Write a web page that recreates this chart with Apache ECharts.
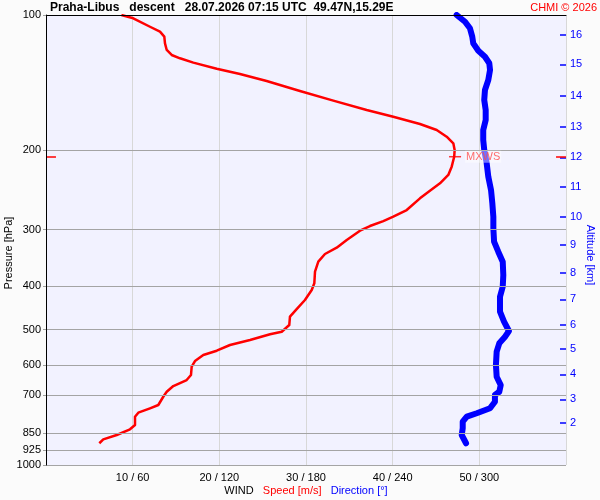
<!DOCTYPE html>
<html>
<head>
<meta charset="utf-8">
<script src="https://cdn.jsdelivr.net/npm/echarts@6/dist/echarts.min.js"></script>
<style>
  html, body { margin: 0; padding: 0; background: #fbfbfb; }
  #chart { width: 600px; height: 500px; }
</style>
</head>
<body>
<div id="chart"></div>
<script>
// ---- tick labels ----
const pressureTicks = [100, 200, 300, 400, 500, 600, 700, 850, 925, 1000];
const altitudeKm = [2, 3, 4, 5, 6, 7, 8, 9, 10, 11, 12, 13, 14, 15, 16];
const altitudePressure = [805.4, 714.5, 628.6, 552.6, 488.6, 428.3, 373.7, 324.4, 280.6, 240.7, 207.2, 177.1, 151.4, 128.7, 110.8];
const speedTicks = [10, 20, 30, 40, 50];
const speedTickLabels = ['10 / 60', '20 / 120', '30 / 180', '40 / 240', '50 / 300'];

// ---- wind speed profile (m/s) ----
const speedPressure = [100, 101.7, 106.2, 108.9, 111.7, 115.6, 119.6, 122.7, 124.8, 127.6,
  131.6, 135.3, 140.2, 147.5, 155.0, 162.6, 168.3, 174.7, 180.1, 186.4,
  192.8, 199.5, 206.5, 217.3, 226.7, 236.6, 245.7, 255.5, 271.3, 280.7,
  287.0, 294.4, 301.6, 316.2, 328.9, 339.7, 353.3, 371.9, 394.7, 408.4,
  429.9, 448.6, 468.2, 488.6, 505.6, 512.4, 527.5, 541.2, 557.2, 569.6,
  587.4, 604.8, 631.0, 647.4, 667.6, 687.5, 705.3, 735.6, 748.2, 765.2,
  781.0, 814.8, 833.0, 857.7, 876.9, 894.7];
const speedValues = [8.7, 10.07, 12.0, 13.15, 13.65, 13.73, 13.93, 14.5, 15.46, 17.0,
  19.7, 22.38, 25.46, 29.3, 33.15, 37.0, 40.07, 43.15, 45.08, 46.23,
  47.0, 47.15, 47.1, 46.81, 46.42, 45.46, 44.3, 43.15, 41.62, 40.07,
  38.92, 37.38, 36.23, 34.7, 33.54, 32.19, 31.42, 31.04, 30.96, 30.66,
  29.88, 29.0, 28.15, 28.07, 27.2, 25.85, 23.54, 21.23, 19.7, 18.15,
  17.19, 16.81, 16.73, 16.23, 14.69, 13.93, 13.53, 12.96, 12.0, 10.65,
  10.27, 10.27, 9.69, 8.16, 6.61, 6.15];

// ---- wind direction profile (deg) ----
const dirPressure = [100, 103.5, 107.0, 111.7, 115.6, 120.1, 123.8, 128.0, 132.5, 139.5,
  146.8, 154.5, 162.6, 171.2, 180.1, 189.6, 199.5, 213.6, 228.7, 244.9,
  262.1, 280.7, 297.9, 319.0, 335.7, 353.3, 378.3, 401.6, 422.7, 456.4,
  480.4, 503.8, 518.7, 536.5, 560.1, 599.5, 636.6, 664.3, 687.5, 699.0,
  723.4, 748.2, 767.5, 781.0, 801.3, 828.8, 857.7, 894.7];
const dirValues = [284.3, 290.1, 293.5, 295.1, 295.8, 299.3, 303.9, 306.9, 307.4, 306.2,
  303.9, 303.4, 304.4, 304.4, 302.7, 302.7, 303.4, 305.1, 306.2, 308.1,
  309.0, 309.7, 309.7, 310.2, 313.1, 316.2, 316.6, 316.2, 314.3, 314.3,
  317.1, 320.5, 317.8, 313.8, 312.0, 311.5, 312.0, 314.8, 313.8, 310.8,
  310.8, 307.4, 298.2, 291.3, 288.5, 288.5, 287.8, 290.8];

// ---- max wind ----
const mxwsSpeed = [47.2];
const mxwsPressure = [206.5];

const lg = Math.log10;
const FONT = "'Liberation Sans', Arial, Helvetica, sans-serif";

const speedData = speedPressure.map((p, i) => [speedValues[i], lg(p)]);
const dirData = dirPressure.map((p, i) => [dirValues[i], lg(p)]);
const mxY = lg(mxwsPressure[0]);

const chart = echarts.init(document.getElementById('chart'), null, { renderer: 'canvas' });

chart.setOption({
  backgroundColor: '#fbfbfb',
  animation: false,
  grid: {
    left: 46, right: 34, top: 15, bottom: 35,
    show: true, backgroundColor: '#f2f2ff', borderWidth: 0
  },
  xAxis: [
    {
      type: 'value', position: 'bottom', min: 0, max: 60, interval: 10,
      axisLine: { show: false, onZero: false }, axisTick: { show: false },
      axisLabel: {
        color: '#000', fontSize: 11, fontFamily: FONT, margin: 7,
        formatter: v => { const i = speedTicks.indexOf(v); return i >= 0 ? speedTickLabels[i] : ''; }
      },
      splitLine: { show: true, lineStyle: { color: '#d8d8d8', width: 1 } }
    },
    {
      type: 'value', position: 'top', min: 0, max: 360, z: 5,
      axisLine: { show: true, onZero: false, lineStyle: { color: '#000', width: 1 } },
      axisTick: { show: false }, axisLabel: { show: false }, splitLine: { show: false }
    }
  ],
  yAxis: [
    {
      type: 'value', position: 'left', min: 2, max: 3, inverse: true, z: 5,
      axisLine: { show: true, onZero: false, lineStyle: { color: '#000', width: 1 } },
      axisTick: { show: true, length: 3, lineStyle: { color: '#a0a0a0' }, customValues: pressureTicks.map(lg) },
      axisLabel: {
        color: '#000', fontSize: 11, fontFamily: FONT, margin: 5,
        customValues: pressureTicks.map(lg),
        formatter: v => String(Math.round(Math.pow(10, v)))
      },
      splitLine: { show: true, lineStyle: { color: '#a4a4a4', width: 1 } }
    },
    {
      type: 'value', position: 'right', min: 2, max: 3, inverse: true,
      axisLine: { show: false, onZero: false },
      axisTick: { show: true, inside: true, length: 6, lineStyle: { color: '#0000ff', width: 1.5 }, customValues: altitudePressure.map(lg) },
      axisLabel: {
        color: '#0000ff', fontSize: 11, fontFamily: FONT, margin: 4,
        customValues: altitudePressure.map(lg),
        formatter: v => {
          let best = 0, bd = 1e9;
          altitudePressure.forEach((p, i) => { const d = Math.abs(lg(p) - v); if (d < bd) { bd = d; best = i; } });
          return String(altitudeKm[best]);
        }
      },
      splitLine: { show: false }
    }
  ],
  series: [
    {
      name: 'Direction', type: 'line', xAxisIndex: 1, yAxisIndex: 0,
      data: dirData, showSymbol: false, symbol: 'none',
      lineStyle: { color: '#0000ff', width: 6, cap: 'round', join: 'round' },
      z: 3
    },
    {
      name: 'Speed', type: 'line', xAxisIndex: 0, yAxisIndex: 0,
      data: speedData, showSymbol: false, symbol: 'none',
      lineStyle: { color: '#ff0000', width: 2.5, join: 'round' },
      z: 4
    },
    {
      name: 'MXWS', type: 'scatter', xAxisIndex: 0, yAxisIndex: 0,
      data: [[mxwsSpeed[0], mxY]],
      symbol: 'rect', symbolSize: [12, 1.5],
      itemStyle: { color: '#ff0000' },
      label: {
        show: true, position: 'right', distance: 4, formatter: 'MXWS',
        color: '#ff4848', fontSize: 11, fontFamily: FONT,
        backgroundColor: 'rgba(255,255,255,0.55)', padding: [1, 1, 0, 1]
      },
      z: 6,
      markLine: {
        silent: true, symbol: 'none', label: { show: false },
        lineStyle: { color: '#ff0000', width: 1.5, type: 'solid' },
        data: [
          [{ coord: [0, mxY] }, { coord: [1.15, mxY] }],
          [{ coord: [58.85, mxY] }, { coord: [60, mxY] }]
        ]
      }
    }
  ],
  graphic: [
    {
      type: 'text', x: 50, y: 8, z: 10,
      style: {
        text: 'Praha-Libus   descent   28.07.2026 07:15 UTC  49.47N,15.29E',
        fill: '#000', font: 'bold 12px ' + FONT, textAlign: 'left', textVerticalAlign: 'middle'
      }
    },
    {
      type: 'text', x: 597, y: 8, z: 10,
      style: {
        text: 'CHMI © 2026', fill: '#ff0000', font: '11px ' + FONT,
        textAlign: 'right', textVerticalAlign: 'middle'
      }
    },
    {
      type: 'text', x: 306, y: 491, z: 10,
      style: {
        text: '{a|WIND}   {b|Speed [m/s]}   {c|Direction [°]}',
        font: '11px ' + FONT, textAlign: 'center', textVerticalAlign: 'middle',
        rich: {
          a: { fill: '#000', font: '11px ' + FONT },
          b: { fill: '#ff0000', font: '11px ' + FONT },
          c: { fill: '#0000ff', font: '11px ' + FONT }
        }
      }
    },
    {
      type: 'text', x: 9, y: 253, rotation: Math.PI / 2, z: 10,
      style: {
        text: 'Pressure [hPa]', fill: '#000', font: '11px ' + FONT,
        textAlign: 'center', textVerticalAlign: 'middle'
      }
    },
    {
      type: 'text', x: 590, y: 255, rotation: -Math.PI / 2, z: 10,
      style: {
        text: 'Altitude [km]', fill: '#0000ff', font: '11px ' + FONT,
        textAlign: 'center', textVerticalAlign: 'middle'
      }
    }
  ]
});
</script>
</body>
</html>
